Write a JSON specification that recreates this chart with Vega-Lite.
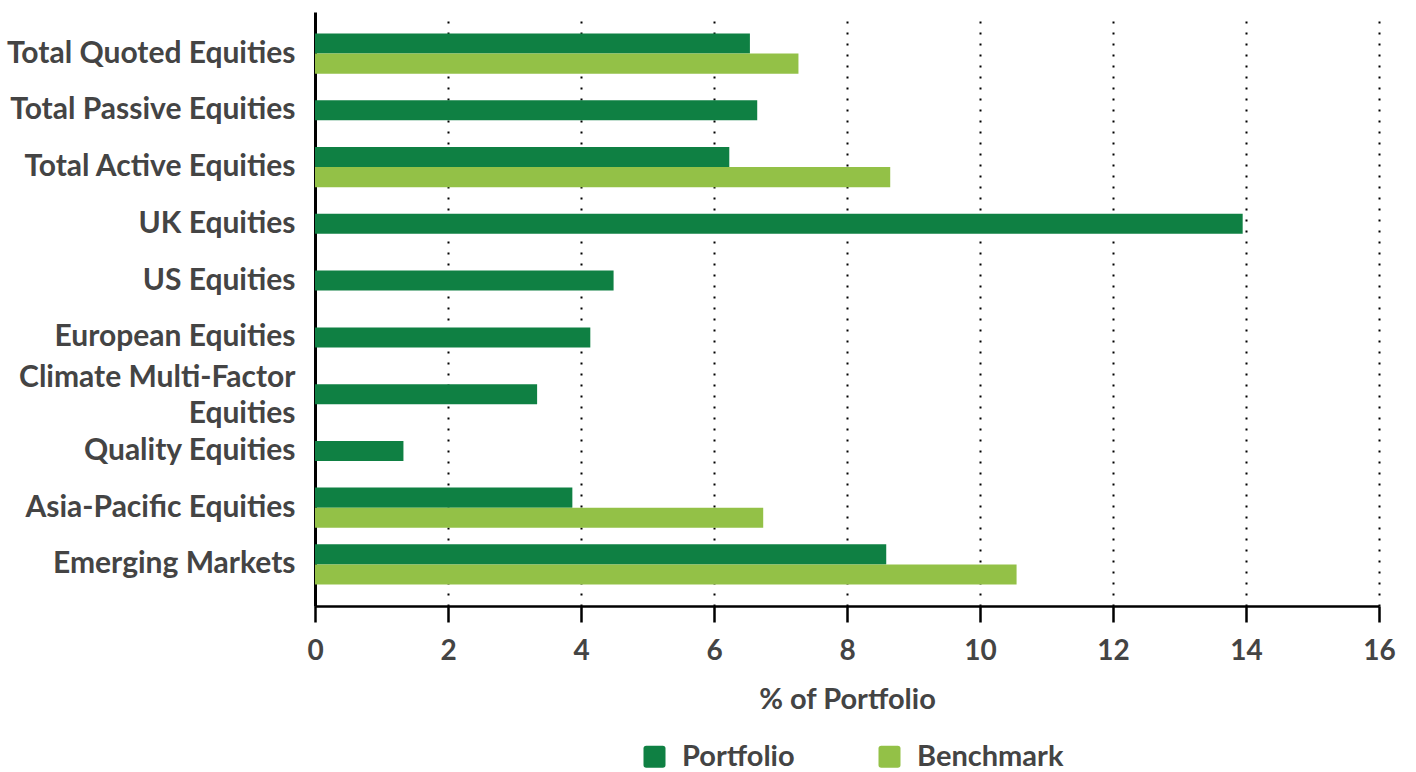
{
  "$schema": "https://vega.github.io/schema/vega-lite/v6.json",
  "autosize": {"type": "none"},
  "padding": {"left": 315, "top": 12, "right": 37, "bottom": 166},
  "width": 1064,
  "height": 594,
  "background": "white",
  "data": {"values": [
    {"category": "Total Quoted Equities", "series": "Portfolio", "value": 6.54},
    {"category": "Total Quoted Equities", "series": "Benchmark", "value": 7.27},
    {"category": "Total Passive Equities", "series": "Portfolio", "value": 6.65},
    {"category": "Total Active Equities", "series": "Portfolio", "value": 6.23},
    {"category": "Total Active Equities", "series": "Benchmark", "value": 8.65},
    {"category": "UK Equities", "series": "Portfolio", "value": 13.95},
    {"category": "US Equities", "series": "Portfolio", "value": 4.49},
    {"category": "European Equities", "series": "Portfolio", "value": 4.14},
    {"category": "Climate Multi-Factor Equities", "series": "Portfolio", "value": 3.34},
    {"category": "Quality Equities", "series": "Portfolio", "value": 1.33},
    {"category": "Asia-Pacific Equities", "series": "Portfolio", "value": 3.87},
    {"category": "Asia-Pacific Equities", "series": "Benchmark", "value": 6.74},
    {"category": "Emerging Markets", "series": "Portfolio", "value": 8.59},
    {"category": "Emerging Markets", "series": "Benchmark", "value": 10.55}
  ]},
  "transform": [
    {"joinaggregate": [{"op": "count", "as": "n"}], "groupby": ["category"]}
  ],
  "encoding": {
    "y": {
      "field": "category", "type": "nominal",
      "scale": {
        "domain": ["Total Quoted Equities", "Total Passive Equities", "Total Active Equities", "UK Equities", "US Equities", "European Equities", "Climate Multi-Factor Equities", "Quality Equities", "Asia-Pacific Equities", "Emerging Markets"],
        "paddingInner": 0.294, "paddingOuter": 0.38
      },
      "axis": {
        "title": null, "ticks": false, "grid": false,
        "domainColor": "#000", "domainWidth": 3,
        "labelPadding": 20, "labelFontSize": 30, "labelFont": "Lato", "labelFontWeight": "bold",
        "labelColor": "#444", "labelLimit": 400, "labelLineHeight": 36,
        "labelOffset": {"condition": {"test": "datum.value == 'Climate Multi-Factor Equities'", "value": -16}, "value": 0},
        "labelExpr": "datum.value == 'Climate Multi-Factor Equities' ? ['Climate Multi-Factor', 'Equities'] : datum.value"
      }
    },
    "x": {
      "field": "value", "type": "quantitative",
      "scale": {"domain": [0, 16], "nice": false},
      "axis": {
        "title": "% of Portfolio", "values": [0, 2, 4, 6, 8, 10, 12, 14, 16],
        "domainColor": "#000", "domainWidth": 2.5,
        "tickColor": "#000", "tickSize": 16, "tickWidth": 2.5,
        "labelFlush": false,
        "labelPadding": 15, "labelFontSize": 28, "labelFont": "Lato", "labelFontWeight": "bold", "labelColor": "#444",
        "titleFontSize": 29, "titleFont": "Lato", "titleFontWeight": "bold", "titleColor": "#444", "titlePadding": 20,
        "grid": true, "gridColor": "#000", "gridDash": [2, 9], "gridWidth": 2, "gridOpacity": 1
      }
    },
    "color": {
      "field": "series", "type": "nominal",
      "scale": {"domain": ["Portfolio", "Benchmark"], "range": ["#0f8043", "#93c147"]},
      "legend": {
        "title": null, "orient": "none", "direction": "horizontal",
        "legendX": 325, "legendY": 730,
        "symbolType": "M-1,-0.75 Q-1,-1 -0.75,-1 L0.75,-1 Q1,-1 1,-0.75 L1,0.75 Q1,1 0.75,1 L-0.75,1 Q-1,1 -1,0.75 Z",
        "symbolSize": 484, "symbolStrokeWidth": 0, "symbolOpacity": 1,
        "labelFontSize": 29, "labelFont": "Lato", "labelFontWeight": "bold", "labelColor": "#444",
        "labelOffset": 13, "columnPadding": 80
      }
    }
  },
  "layer": [
    {
      "transform": [{"filter": "datum.n > 1"}],
      "mark": {"type": "bar"},
      "encoding": {
        "yOffset": {"field": "series", "type": "nominal", "sort": ["Portfolio", "Benchmark"], "scale": {"paddingInner": 0, "paddingOuter": 0}}
      }
    },
    {
      "transform": [{"filter": "datum.n == 1"}],
      "mark": {"type": "bar", "size": 20}
    }
  ],
  "config": {"view": {"stroke": null}}
}
